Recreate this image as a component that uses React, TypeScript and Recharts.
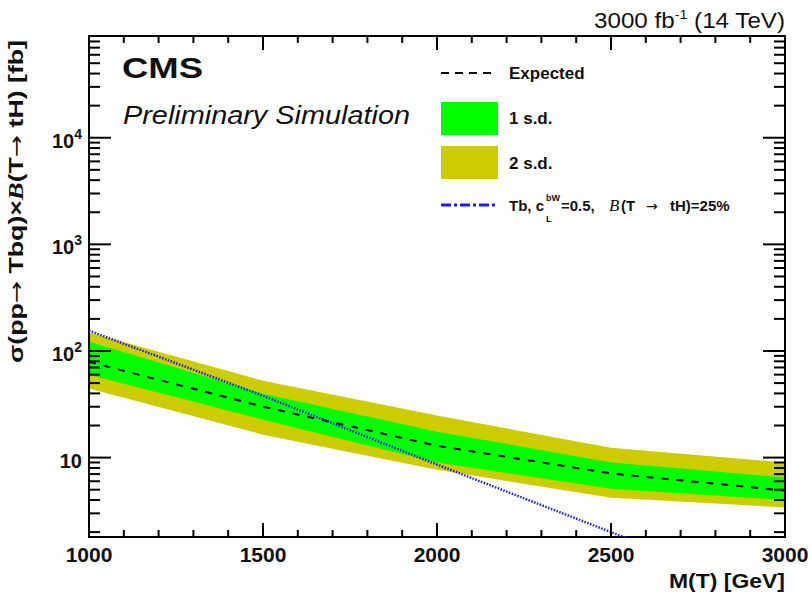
import { ComposedChart, Area, Line, XAxis, YAxis, ReferenceArea } from 'recharts';

// T mass points (GeV)
const masses = [1000, 1500, 2000, 2500, 3000];
// expected limit and bands (fb)
const expected = [79, 30, 12.9, 7.1, 4.9];
const sd1Low = [60, 22.7, 9.0, 5.1, 4.0];
const sd1High = [122, 39.8, 17.5, 9.0, 6.5];
const sd2Low = [44.4, 16.4, 7.7, 4.2, 3.4];
const sd2High = [149, 52.7, 24.8, 12.4, 9.0];
// Tb signal, cL^bW = 0.5, B(T->tH) = 25%
const tbSignal = [155, 38, 8.6, 2.0, 0.46];

const xTicks = [
  1000, 1100, 1200, 1300, 1400, 1500, 1600, 1700, 1800, 1900, 2000,
  2100, 2200, 2300, 2400, 2500, 2600, 2700, 2800, 2900, 3000,
];
const xMajor = [1000, 1500, 2000, 2500, 3000];
const yTicks = [
  2, 3, 4, 5, 6, 7, 8, 9,
  10, 20, 30, 40, 50, 60, 70, 80, 90,
  100, 200, 300, 400, 500, 600, 700, 800, 900,
  1000, 2000, 3000, 4000, 5000, 6000, 7000, 8000, 9000,
  10000, 20000, 30000, 40000, 50000, 60000, 70000, 80000, 90000,
];
const yLabels: Record<number, [string, string]> = {
  10: ['10', ''],
  100: ['10', '2'],
  1000: ['10', '3'],
  10000: ['10', '4'],
};

const data = masses.map((m, i) => ({
  m,
  expected: expected[i],
  sd1: [sd1Low[i], sd1High[i]],
  sd2: [sd2Low[i], sd2High[i]],
  tb: tbSignal[i],
}));

const W = 811;
const H = 594;
const PLOT = { left: 89, top: 36, right: 785, bottom: 537 };
const FONT = '"Liberation Sans", Arial, sans-serif';
const SERIF = '"Liberation Serif", serif';
const ARROW = '"DejaVu Sans", sans-serif';
const GREEN = '#00ff00';
const YELLOW = '#cccc00';
const BLUE = '#1a1aff';

const XTick = ({ x, payload }: any) => {
  const v = payload.value;
  const major = xMajor.includes(v);
  const len = major ? 14 : 7;
  return (
    <g>
      <line x1={x} x2={x} y1={PLOT.bottom} y2={PLOT.bottom - len} stroke="#000" strokeWidth={2} />
      <line x1={x} x2={x} y1={PLOT.top} y2={PLOT.top + len} stroke="#000" strokeWidth={2} />
      {major && (
        <text x={x} y={562} textAnchor="middle" fontSize={21} fontWeight="bold" fontFamily={FONT} fill="#111">
          {v}
        </text>
      )}
    </g>
  );
};

const YTick = ({ y, payload }: any) => {
  const v = payload.value;
  const label = yLabels[v];
  const len = label ? 22 : 11;
  return (
    <g>
      <line x1={PLOT.left} x2={PLOT.left + len} y1={y} y2={y} stroke="#000" strokeWidth={2} />
      <line x1={PLOT.right - len} x2={PLOT.right} y1={y} y2={y} stroke="#000" strokeWidth={2} />
      {label && (
        <text x={82} y={y + 10} textAnchor="end" fontSize={20} fontWeight="bold" fontFamily={FONT} fill="#111">
          {label[0]}
          {label[1] && (
            <tspan fontSize={14} dy={-9}>
              {label[1]}
            </tspan>
          )}
        </text>
      )}
    </g>
  );
};

const Overlay = () => (
  <svg width={W} height={H} style={{ position: 'absolute', left: 0, top: 0, pointerEvents: 'none' }}>
    <g fontFamily={FONT} fill="#111">
      {/* luminosity label */}
      <text x={785} y={28} textAnchor="end" fontSize={22} textLength={191} lengthAdjust="spacingAndGlyphs">
        3000 fb<tspan fontSize={13} dy={-9}>-1</tspan>
        <tspan dy={9}> (14 TeV)</tspan>
      </text>

      <text x={122} y={78} fontSize={30} fontWeight="bold" textLength={81} lengthAdjust="spacingAndGlyphs">
        CMS
      </text>
      <text x={123} y={124} fontSize={25} fontStyle="italic" textLength={287} lengthAdjust="spacingAndGlyphs">
        Preliminary Simulation
      </text>

      {/* axis titles */}
      <text x={785} y={588} textAnchor="end" fontSize={20} fontWeight="bold" textLength={116} lengthAdjust="spacingAndGlyphs">
        M(T) [GeV]
      </text>
      <text
        transform="translate(23,40) rotate(-90)"
        textAnchor="end"
        fontSize={20}
        fontWeight="bold"
        textLength={323}
        lengthAdjust="spacingAndGlyphs"
      >
        σ(pp<tspan fontFamily={ARROW} fontWeight="normal">→</tspan> Tbq)×
        <tspan fontFamily={SERIF} fontStyle="italic">B</tspan>(T<tspan fontFamily={ARROW} fontWeight="normal">→</tspan> tH) [fb]
      </text>

      {/* legend */}
      <line x1={441} x2={497} y1={73} y2={73} stroke="#000" strokeWidth={2} strokeDasharray="8 6" />
      <text x={509} y={79} fontSize={17} fontWeight="bold">Expected</text>

      <rect x={441} y={102} width={57} height={33} fill={GREEN} />
      <text x={509} y={124} fontSize={17} fontWeight="bold">1 s.d.</text>

      <rect x={441} y={146} width={57} height={33} fill={YELLOW} />
      <text x={509} y={169} fontSize={17} fontWeight="bold">2 s.d.</text>

      <line x1={441} x2={497} y1={205} y2={205} stroke={BLUE} strokeWidth={3} strokeDasharray="10 3 3 3" />
      <g fontSize={15} fontWeight="bold">
        <text x={509} y={211}>Tb, c</text>
        <text x={546} y={201} fontSize={9}>bW</text>
        <text x={546} y={222} fontSize={9}>L</text>
        <text x={561} y={211}>=0.5,</text>
        <text x={609} y={211} fontFamily={SERIF} fontStyle="italic" fontWeight="normal" fontSize={17}>B</text>
        <text x={621} y={211}>(T</text>
        <text x={646} y={211} fontFamily={ARROW} fontWeight="normal" fontSize={14}>→</text>
        <text x={670} y={211}>tH)=25%</text>
      </g>
    </g>
  </svg>
);

export default function App() {
  return (
    <div style={{ position: 'absolute', left: 0, top: 0, width: W, height: H, background: '#fff' }}>
      <ComposedChart
        width={W}
        height={H}
        data={data}
        margin={{ top: PLOT.top, right: W - PLOT.right, left: 0, bottom: 0 }}
      >
        <XAxis
          dataKey="m"
          type="number"
          domain={[1000, 3000]}
          ticks={xTicks}
          interval={0}
          height={H - PLOT.bottom}
          axisLine={false}
          tickLine={false}
          tickSize={0}
          tickMargin={0}
          tick={(p: any) => <XTick {...p} />}
        />
        <YAxis
          type="number"
          scale="log"
          domain={[1.8, 90000]}
          allowDataOverflow
          ticks={yTicks}
          interval={0}
          width={PLOT.left}
          axisLine={false}
          tickLine={false}
          tickSize={0}
          tickMargin={0}
          tick={(p: any) => <YTick {...p} />}
        />

        <Area type="linear" dataKey="sd2" stroke="none" fill={YELLOW} fillOpacity={1} isAnimationActive={false} dot={false} activeDot={false} />
        <Area type="linear" dataKey="sd1" stroke="none" fill={GREEN} fillOpacity={1} isAnimationActive={false} dot={false} activeDot={false} />
        <Line type="linear" dataKey="expected" stroke="#000" strokeWidth={2} strokeDasharray="7 8" dot={false} activeDot={false} isAnimationActive={false} />
        <Line type="linear" dataKey="tb" stroke={BLUE} strokeWidth={2.5} strokeDasharray="1.5 1.5" dot={false} activeDot={false} isAnimationActive={false} />

        <ReferenceArea x1={1000} x2={3000} y1={1.8} y2={90000} fill="none" stroke="#000" strokeWidth={2} ifOverflow="visible" />
      </ComposedChart>
      <Overlay />
    </div>
  );
}
